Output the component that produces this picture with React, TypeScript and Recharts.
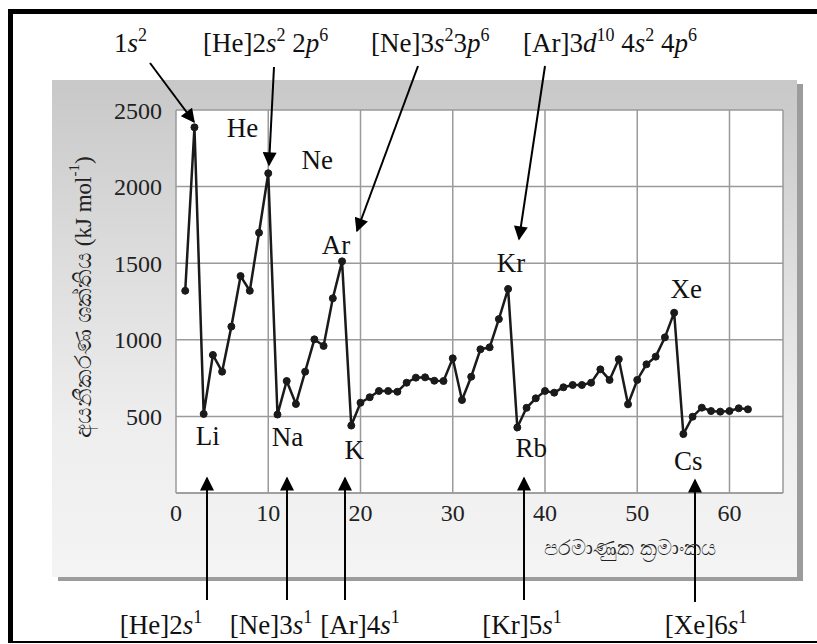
import { LineChart, Line, XAxis, YAxis, CartesianGrid, LabelList } from 'recharts';

// atomic numbers (x) and first ionization energies in kJ/mol (y)
const atomicNumbers = [
  1, 2, 3, 4, 5, 6, 7, 8, 9, 10, 11, 12, 13, 14, 15, 16, 17, 18, 19, 20, 21,
  22, 23, 24, 25, 26, 27, 28, 29, 30, 31, 32, 33, 34, 35, 36, 37, 38, 39, 40,
  41, 42, 43, 44, 45, 46, 47, 48, 49, 50, 51, 52, 53, 54, 55, 56, 57, 58, 59,
  60, 61, 62,
];
const ionizationEnergies = [
  1320, 2387, 516, 901, 792, 1086, 1416, 1320, 1699, 2087, 512, 731, 581, 792,
  1003, 960, 1271, 1512, 440, 589, 625, 666, 666, 661, 720, 753, 755, 733, 731,
  879, 607, 759, 938, 951, 1135, 1332, 428, 556, 618, 666, 655, 690, 705, 705,
  720, 807, 738, 873, 579, 738, 840, 890, 1016, 1177, 385, 498, 557, 535, 531,
  535, 553, 546,
];
const labeledNumbers = [2, 10, 18, 36, 54, 3, 11, 19, 37, 55];
const labeledSymbols = ['He', 'Ne', 'Ar', 'Kr', 'Xe', 'Li', 'Na', 'K', 'Rb', 'Cs'];

const xTicks = [0, 10, 20, 30, 40, 50, 60];
const yTicks = [500, 1000, 1500, 2000, 2500];

const yLabelText = 'අයනීකරණ ශක්තිය';
const xLabelText = 'පරමාණුක ක්‍රමාංකය';

const data = atomicNumbers.map((z, i) => {
  const k = labeledNumbers.indexOf(z);
  return { z, energy: ionizationEnergies[i], symbol: k >= 0 ? labeledSymbols[k] : undefined };
});

// label offsets from their point (centre of text)
const symbolOffset: Record<string, [number, number]> = {
  He: [48, 1], Ne: [49, -13], Ar: [-6, -16], Kr: [3, -26], Xe: [12, -24],
  Li: [4, 22], Na: [10, 22], K: [3, 24], Rb: [14, 21], Cs: [5, 27],
};

const serif = "'Liberation Serif', 'DejaVu Serif', serif";
const serifStyle = { fontFamily: serif };

function SymbolLabel(props: any) {
  const { x, y, value } = props;
  if (!value) return null;
  const [dx, dy] = symbolOffset[value] || [0, 0];
  return (
    <text x={x + dx} y={y + dy} textAnchor="middle" dominantBaseline="central"
      style={serifStyle} fontSize={27} fill="#111">
      {value}
    </text>
  );
}

const sup = (s: string) => (
  <tspan fontSize={18} dy={-11}>{s}</tspan>
);
const base = (s: string) => (
  <tspan dy={11}>{s}</tspan>
);

function Arrow({ x1, y1, x2, y2 }: { x1: number; y1: number; x2: number; y2: number }) {
  return <line x1={x1} y1={y1} x2={x2} y2={y2} stroke="#000" strokeWidth={2} markerEnd="url(#head)" />;
}

function Overlay() {
  return (
    <svg width={817} height={644} style={{ position: 'absolute', left: 0, top: 0, pointerEvents: 'none' }}>
      <defs>
        <marker id="head" viewBox="0 0 10 10" refX="9" refY="5" markerWidth="7.5" markerHeight="7" orient="auto"
          markerUnits="strokeWidth">
          <path d="M0,0 L10,5 L0,10 z" fill="#000" />
        </marker>
      </defs>
      <g style={serifStyle} fontSize={27} fill="#111">
        <text x={114} y={52}>1<tspan fontStyle="italic">s</tspan>{sup('2')}</text>
        <text x={203} y={52}>[He]2<tspan fontStyle="italic">s</tspan>{sup('2')}{base(' 2')}<tspan fontStyle="italic">p</tspan>{sup('6')}</text>
        <text x={371} y={52}>[Ne]3<tspan fontStyle="italic">s</tspan>{sup('2')}{base('3')}<tspan fontStyle="italic">p</tspan>{sup('6')}</text>
        <text x={523} y={52}>[Ar]3<tspan fontStyle="italic">d</tspan>{sup('10')}{base(' 4')}<tspan fontStyle="italic">s</tspan>{sup('2')}{base(' 4')}<tspan fontStyle="italic">p</tspan>{sup('6')}</text>

        <text x={161} y={634} textAnchor="middle">[He]2<tspan fontStyle="italic">s</tspan>{sup('1')}</text>
        <text x={271} y={634} textAnchor="middle">[Ne]3<tspan fontStyle="italic">s</tspan>{sup('1')}</text>
        <text x={360} y={634} textAnchor="middle">[Ar]4<tspan fontStyle="italic">s</tspan>{sup('1')}</text>
        <text x={522} y={634} textAnchor="middle">[Kr]5<tspan fontStyle="italic">s</tspan>{sup('1')}</text>
        <text x={706} y={634} textAnchor="middle">[Xe]6<tspan fontStyle="italic">s</tspan>{sup('1')}</text>
      </g>

      <Arrow x1={150} y1={63} x2={194} y2={122} />
      <Arrow x1={274} y1={67} x2={269} y2={165} />
      <Arrow x1={418} y1={66} x2={357} y2={231} />
      <Arrow x1={545} y1={66} x2={519} y2={239} />

      <Arrow x1={207} y1={600} x2={207} y2={478} />
      <Arrow x1={287} y1={600} x2={287} y2={478} />
      <Arrow x1={345} y1={600} x2={345} y2={478} />
      <Arrow x1={524} y1={600} x2={524} y2={478} />
      <Arrow x1={695} y1={602} x2={695} y2={480} />

      <text x={83} y={297} transform="rotate(-90 83 297)" textAnchor="middle" dominantBaseline="central"
        style={serifStyle} fontSize={23} fill="#222">
        {yLabelText} (kJ mol<tspan fontSize={15} dy={-9}>-1</tspan><tspan dy={9}>)</tspan>
      </text>
      <text x={630} y={548} textAnchor="middle" dominantBaseline="central"
        style={serifStyle} fontSize={21} fill="#222">
        {xLabelText}
      </text>
    </svg>
  );
}

export default function App() {
  return (
    <div style={{ position: 'relative', width: 817, height: 644, overflow: 'hidden', background: '#fff', fontFamily: serif }}>
      <style>{'body{margin:0} svg text{font-family:' + serif + '}'}</style>
      <div style={{
        position: 'absolute', left: 8, top: 9, width: 840, height: 634, boxSizing: 'border-box',
        border: '5px solid #000', borderBottomWidth: 2,
      }} />
      <div style={{
        position: 'absolute', left: 52, top: 80, width: 745, height: 497,
        background: 'linear-gradient(to bottom, #c8c8c8 0%, #dcdcdc 35%, #eeeeee 70%, #f4f4f4 100%)',
        boxShadow: '6px 4px 0 #9c9c9c',
      }} />
      <div style={{ position: 'absolute', left: 0, top: 0 }}>
        <LineChart width={817} height={644} data={data}
          margin={{ top: 110, right: 34, bottom: 121, left: 0 }}>
          <CartesianGrid stroke="#9a9a9a" strokeWidth={1.5} fill="#fff" />
          <XAxis dataKey="z" type="number" domain={[0, 65.8]} ticks={xTicks} height={30}
            axisLine={{ stroke: '#9a9a9a', strokeWidth: 1.5 }} tickLine={false} tickMargin={5}
            tick={{ fontSize: 24, fill: '#222' }} allowDataOverflow />
          <YAxis type="number" domain={[0, 2500]} ticks={yTicks} width={176}
            axisLine={false} tickLine={false} tickMargin={8}
            tick={{ fontSize: 24, fill: '#222' }} />
          <Line type="linear" dataKey="energy" stroke="#1a1a1a" strokeWidth={2.5}
            dot={{ r: 3.5, fill: '#1a1a1a', stroke: '#1a1a1a', strokeWidth: 1 }}
            isAnimationActive={false}>
            <LabelList dataKey="symbol" content={SymbolLabel} />
          </Line>
        </LineChart>
      </div>
      <Overlay />
    </div>
  );
}
